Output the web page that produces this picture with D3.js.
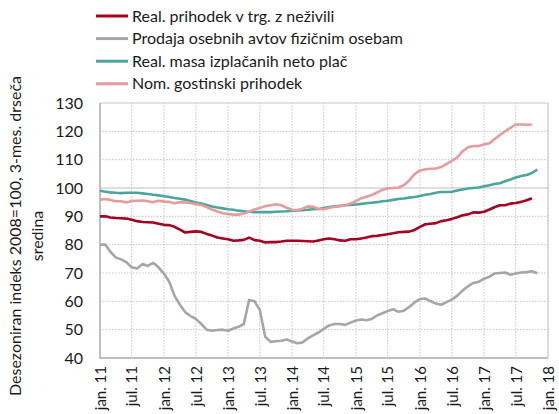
<!DOCTYPE html>
<html>
<head>
<meta charset="utf-8">
<script src="https://cdn.jsdelivr.net/npm/d3@7"></script>
<style>
  body { margin: 0; background: #fff; }
  text { font-family: Lato, "Open Sans", sans-serif; fill: #1a1a1a; }
</style>
</head>
<body>
<svg id="chart"></svg>
<script>
const width = 559;
const height = 414;

// monthly data, first month jan. 2011
const startYear = 2011;
const maloprodaja = [90.0, 90.0, 89.6, 89.4, 89.3, 89.2, 88.8, 88.3, 88.0, 87.9, 87.8, 87.4,
  87.0, 86.9, 86.3, 85.3, 84.3, 84.5, 84.7, 84.5, 83.8, 83.2, 82.5, 82.2,
  81.9, 81.4, 81.5, 81.7, 82.5, 81.6, 81.4, 80.8, 80.9, 80.9, 81.1, 81.4,
  81.4, 81.4, 81.3, 81.2, 81.1, 81.5, 81.9, 82.2, 81.9, 81.5, 81.4, 81.9,
  81.9, 82.2, 82.5, 83.0, 83.1, 83.4, 83.7, 84.0, 84.4, 84.5, 84.6, 85.2,
  86.3, 87.2, 87.4, 87.6, 88.3, 88.6, 89.1, 89.7, 90.4, 90.7, 91.4, 91.3,
  91.6, 92.4, 93.2, 93.9, 93.9, 94.5, 94.7, 95.1, 95.7, 96.4];
const avtomobili = [80.0, 80.0, 77.5, 75.5, 74.8, 73.8, 72.0, 71.6, 73.2, 72.5, 73.6, 72.0,
  69.8, 66.8, 62.0, 58.8, 56.2, 54.8, 53.8, 52.0, 50.0, 49.6, 49.9, 50.0,
  49.6, 50.4, 51.0, 52.0, 60.5, 60.0, 57.0, 47.5, 45.7, 45.9, 46.1, 46.5,
  45.8, 45.2, 45.5, 46.9, 48.0, 49.0, 50.3, 51.5, 52.0, 52.0, 51.7, 52.5,
  53.2, 53.6, 53.3, 53.8, 55.0, 55.8, 56.6, 57.2, 56.3, 56.7, 58.0, 59.6,
  60.8, 61.0, 60.1, 59.2, 58.8, 59.7, 60.6, 62.0, 63.8, 65.3, 66.5, 66.9,
  68.0, 68.7, 69.8, 70.0, 70.2, 69.4, 69.8, 70.2, 70.3, 70.6, 69.9];
const place = [99.0, 98.7, 98.45, 98.3, 98.2, 98.3, 98.35, 98.3, 98.1, 97.9, 97.6, 97.4,
  97.1, 96.8, 96.5, 96.2, 95.9, 95.4, 94.9, 94.5, 94.0, 93.5, 93.1, 92.8,
  92.5, 92.3, 92.0, 91.8, 91.6, 91.5, 91.5, 91.5, 91.5, 91.6, 91.7, 91.8,
  92.0, 92.1, 92.2, 92.3, 92.5, 92.6, 92.9, 93.3, 93.5, 93.7, 93.9, 94.0,
  94.2, 94.4, 94.6, 94.8, 95.0, 95.3, 95.5, 95.8, 96.1, 96.3, 96.6, 96.8,
  97.2, 97.6, 97.9, 98.3, 98.6, 98.6, 98.7, 99.1, 99.5, 99.8, 100.0, 100.2,
  100.6, 101.0, 101.4, 101.7, 102.4, 103.0, 103.7, 104.2, 104.6, 105.3, 106.5];
const gostinstvo = [95.9, 96.1, 95.8, 95.3, 95.3, 94.9, 95.4, 95.5, 95.6, 95.3, 95.0, 95.5,
  95.2, 95.1, 94.6, 95.0, 94.9, 94.7, 94.3, 94.0, 93.3, 92.4, 91.7, 91.1,
  90.8, 90.6, 90.6, 91.0, 91.7, 92.4, 92.9, 93.6, 93.9, 94.3, 93.9, 93.0,
  92.3, 92.2, 92.7, 93.5, 93.4, 92.6, 92.5, 93.0, 93.4, 93.6, 93.9, 94.5,
  95.4, 96.4, 96.9, 97.5, 98.4, 99.4, 99.8, 100.0, 100.2, 101.0, 102.7, 104.9,
  106.2, 106.6, 106.8, 106.9, 107.4, 108.5, 109.6, 110.8, 113.0, 114.4, 114.8, 114.8,
  115.4, 115.8, 117.2, 118.7, 120.0, 121.2, 122.4, 122.4, 122.3, 122.4];

const seriesNames = ["Real. prihodek v trg. z neživili", "Prodaja osebnih avtov fizičnim osebam",
  "Real. masa izplačanih neto plač", "Nom. gostinski prihodek"];
const seriesColors = ["#a50021", "#a6a6a6", "#4ba59e", "#e59c9b"];
const seriesValues = [maloprodaja, avtomobili, place, gostinstvo];
const yTicks = [40, 50, 60, 70, 80, 90, 100, 110, 120, 130];
const monthNames = ["jan.", "feb.", "mar.", "apr.", "maj", "jun.", "jul.", "avg.", "sep.", "okt.", "nov.", "dec."];
const yTitle = ["Desezoniran indeks 2008=100, 3-mes. drseča", "sredina"];

const plotLeft = 100, plotRight = 548, plotTop = 103, plotBottom = 358;

const svg = d3.select("#chart")
    .attr("width", width)
    .attr("height", height);

const x = d3.scaleTime()
    .domain([new Date(2011, 0, 1), new Date(2018, 0, 1)])
    .range([plotLeft, plotRight]);

const y = d3.scaleLinear()
    .domain([40, 130])
    .range([plotBottom, plotTop]);

const xTickDates = d3.timeMonth.every(6).range(new Date(2011, 0, 1), new Date(2018, 0, 2));

// grid
const grid = svg.append("g");
grid.selectAll(".vg")
    .data(xTickDates)
    .join("line")
        .attr("x1", d => x(d)).attr("x2", d => x(d))
        .attr("y1", plotTop).attr("y2", plotBottom)
        .attr("stroke", "#c4c4c4")
        .attr("stroke-width", 1)
        .attr("stroke-dasharray", "1.5,1.5");
grid.selectAll(".hg")
    .data(yTicks.filter(d => d != 100 && d != 40 && d != 130))
    .join("line")
        .attr("x1", plotLeft).attr("x2", plotRight)
        .attr("y1", d => y(d)).attr("y2", d => y(d))
        .attr("stroke", "#c4c4c4")
        .attr("stroke-width", 1)
        .attr("stroke-dasharray", "1.5,1.5");
grid.append("line")
    .attr("x1", plotLeft).attr("x2", plotRight)
    .attr("y1", y(100)).attr("y2", y(100))
    .attr("stroke", "#bdbdbd")
    .attr("stroke-width", 1.2);

// frame
svg.append("rect")
    .attr("x", plotLeft).attr("y", plotTop)
    .attr("width", plotRight - plotLeft).attr("height", plotBottom - plotTop)
    .attr("fill", "none")
    .attr("stroke", "#c8c8c8")
    .attr("stroke-width", 1);
svg.append("path")
    .attr("d", `M${plotLeft},${plotTop}V${plotBottom}H${plotRight}`)
    .attr("fill", "none")
    .attr("stroke", "#bfbfbf")
    .attr("stroke-width", 2);

// lines
const line = d3.line()
    .x((d, i) => x(new Date(startYear, i, 1)))
    .y(d => y(d));

svg.append("g")
    .selectAll("path")
    .data(seriesValues)
    .join("path")
        .attr("d", line)
        .attr("fill", "none")
        .attr("stroke", (d, i) => seriesColors[i])
        .attr("stroke-width", 2.6)
        .attr("stroke-linejoin", "round");

// y axis
const yAxis = d3.axisLeft(y).tickValues(yTicks).tickSize(0).tickPadding(0);
svg.append("g")
    .attr("transform", `translate(${plotLeft - 17},0)`)
    .call(yAxis)
    .call(g => g.select(".domain").remove())
    .selectAll("text")
        .attr("font-size", 16)
        .attr("font-family", "Lato, sans-serif")
        .attr("fill", "#1a1a1a");

// x axis
const xAxis = d3.axisBottom(x)
    .tickValues(xTickDates)
    .tickSize(0)
    .tickFormat(d => monthNames[d.getMonth()] + " " + String(d.getFullYear()).slice(2));
svg.append("g")
    .attr("transform", `translate(0,${plotBottom})`)
    .call(xAxis)
    .call(g => g.select(".domain").remove())
    .selectAll("text")
        .attr("font-size", 15)
        .attr("font-family", "Lato, sans-serif")
        .attr("fill", "#1a1a1a")
        .attr("text-anchor", "end")
        .attr("dy", "0.35em")
        .attr("transform", "translate(0,8) rotate(-90)")
        .attr("x", 0)
        .attr("y", 0);

// y title
svg.selectAll(".ytitle")
    .data(yTitle)
    .join("text")
        .attr("transform", (d, i) => `translate(${21 + i * 22},236) rotate(-90)`)
        .attr("text-anchor", "middle")
        .attr("font-size", 16)
        .text(d => d);

// legend
const legend = svg.append("g")
    .selectAll("g")
    .data(seriesNames)
    .join("g")
        .attr("transform", (d, i) => `translate(96,${16 + i * 22.6})`);
legend.append("line")
    .attr("x1", 0).attr("x2", 32)
    .attr("stroke", (d, i) => seriesColors[i])
    .attr("stroke-width", 3);
legend.append("text")
    .attr("x", 36)
    .attr("dy", "0.35em")
    .attr("font-size", 16)
    .text(d => d);
</script>
</body>
</html>
